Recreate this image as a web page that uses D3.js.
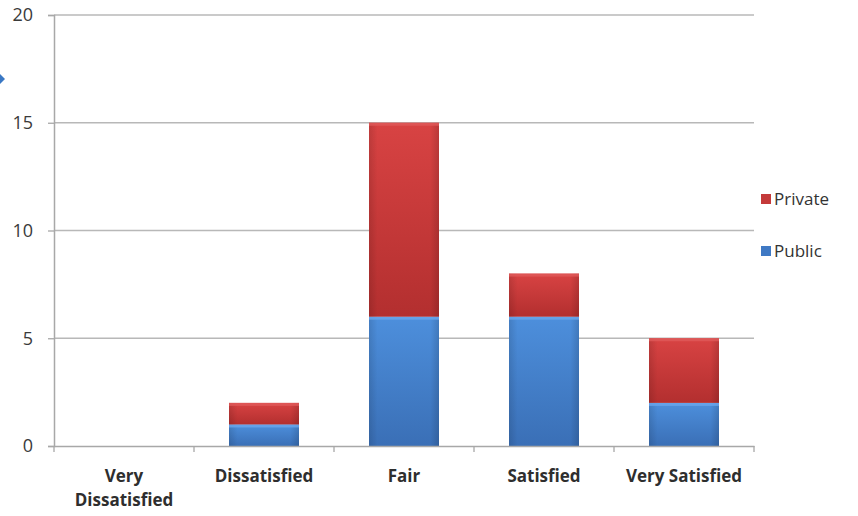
<!DOCTYPE html>
<html>
<head>
<meta charset="utf-8">
<script src="https://cdn.jsdelivr.net/npm/d3@7"></script>
<style>
  html, body { margin: 0; padding: 0; background: #fff; }
  svg { display: block; }
</style>
</head>
<body>
<svg id="chart" width="858" height="516"></svg>
<script>
// Satisfaction ratings, split by sector
const categories = ["Very Dissatisfied", "Dissatisfied", "Fair", "Satisfied", "Very Satisfied"];
const publicValues = [0, 1, 6, 6, 2];
const privateValues = [0, 1, 9, 2, 3];
const seriesNames = ["Public", "Private"];
const yTicks = [0, 5, 10, 15, 20];

const rows = categories.map((c, i) => ({ category: c, Public: publicValues[i], Private: privateValues[i] }));
const stacked = d3.stack().keys(seriesNames)(rows);

const svg = d3.select("#chart");
const margin = { left: 54, right: 104, top: 15, bottom: 70 };
const W = 858, H = 516;
const FONT = "'Open Sans', sans-serif";

const x = d3.scaleBand().domain(categories).range([margin.left, W - margin.right]).paddingInner(0.5).paddingOuter(0.25);
const y = d3.scaleLinear().domain([0, 20]).range([H - margin.bottom, margin.top]);

const defs = svg.append("defs");
function gradients(id, light, dark) {
  const v = defs.append("linearGradient").attr("id", id + "-v").attr("x1", 0).attr("y1", 0).attr("x2", 0).attr("y2", 1);
  v.append("stop").attr("offset", "0%").attr("stop-color", light);
  v.append("stop").attr("offset", "100%").attr("stop-color", dark);
  const h = defs.append("linearGradient").attr("id", id + "-h").attr("x1", 0).attr("y1", 0).attr("x2", 1).attr("y2", 0);
  h.append("stop").attr("offset", "0%").attr("stop-color", "#000").attr("stop-opacity", 0.12);
  h.append("stop").attr("offset", "12%").attr("stop-color", "#000").attr("stop-opacity", 0);
  h.append("stop").attr("offset", "88%").attr("stop-color", "#000").attr("stop-opacity", 0);
  h.append("stop").attr("offset", "100%").attr("stop-color", "#000").attr("stop-opacity", 0.14);
}
gradients("pub", "#4d8fdc", "#3a6fb6");
gradients("pri", "#d84343", "#b32f2f");
const fills = { Public: "pub", Private: "pri" };
const edge = { Public: "#6aa6ec", Private: "#e05a5a" };

// Horizontal gridlines
svg.append("g").selectAll("line").data(yTicks.filter(t => t > 0)).join("line")
  .attr("x1", margin.left).attr("x2", W - margin.right)
  .attr("y1", d => y(d)).attr("y2", d => y(d))
  .attr("stroke", "#b8b8b8").attr("stroke-width", 1.3);

// Y axis
const yAxis = svg.append("g").attr("transform", `translate(${margin.left},0)`)
  .call(d3.axisLeft(y).tickValues(yTicks).tickSize(6).tickPadding(15));
yAxis.select(".domain").attr("stroke", "#a8a8a8").attr("stroke-width", 1.5);
yAxis.selectAll(".tick line").attr("stroke", "#a8a8a8").attr("stroke-width", 1.3);
yAxis.selectAll("text").attr("font-family", FONT).attr("font-size", 18).attr("fill", "#3a3a3a");

// Stacked bars
const layer = svg.append("g").selectAll("g").data(stacked).join("g");
layer.selectAll("g.seg").data(s => s.map(d => ({ key: s.key, d }))).join("g").attr("class", "seg")
  .each(function (p) {
    const g = d3.select(this);
    const x0 = x(p.d.data.category), w = x.bandwidth();
    const top = y(p.d[1]), hgt = y(p.d[0]) - y(p.d[1]);
    if (hgt <= 0) return;
    g.append("rect").attr("x", x0).attr("y", top).attr("width", w).attr("height", hgt)
      .attr("fill", `url(#${fills[p.key]}-v)`);
    g.append("rect").attr("x", x0).attr("y", top).attr("width", w).attr("height", hgt)
      .attr("fill", `url(#${fills[p.key]}-h)`);
    g.append("rect").attr("x", x0).attr("y", top).attr("width", w).attr("height", Math.min(3, hgt))
      .attr("fill", edge[p.key]).attr("opacity", 0.8);
  });

// X axis
const xAxis = svg.append("g").attr("transform", `translate(0,${y(0)})`)
  .call(d3.axisBottom(x).tickSize(0).tickPadding(0));
xAxis.select(".domain").attr("stroke", "#a8a8a8").attr("stroke-width", 1.5);
xAxis.selectAll(".tick line").remove();
xAxis.selectAll(".tick text").remove();
// Band boundary tick marks
const bounds = categories.map(c => x(c) - x.bandwidth() * 0.5).concat([W - margin.right]);
svg.append("g").selectAll("line").data(bounds).join("line")
  .attr("x1", d => d).attr("x2", d => d)
  .attr("y1", y(0)).attr("y2", y(0) + 6)
  .attr("stroke", "#a8a8a8").attr("stroke-width", 1.3);

// Category labels (wrapped like the original)
const labelLines = { "Very Dissatisfied": ["Very", "Dissatisfied"] };
const lab = svg.append("g").selectAll("text").data(categories).join("text")
  .attr("x", d => x(d) + x.bandwidth() / 2)
  .attr("y", y(0) + 36)
  .attr("text-anchor", "middle")
  .attr("font-family", FONT).attr("font-weight", "bold")
  .attr("font-size", 17).attr("fill", "#2e2e2e");
lab.each(function (d) {
  const lines = labelLines[d] || [d];
  const t = d3.select(this);
  lines.forEach((l, i) => t.append("tspan").attr("x", x(d) + x.bandwidth() / 2).attr("dy", i === 0 ? 0 : 24).text(l));
});

// Legend
const legendOrder = ["Private", "Public"];
const leg = svg.append("g").selectAll("g").data(legendOrder).join("g")
  .attr("transform", (d, i) => `translate(761,${194 + i * 52})`);
leg.append("rect").attr("width", 10).attr("height", 10)
  .attr("fill", d => d === "Private" ? "#c43a3a" : "#3f79c4");
leg.append("text").attr("x", 13).attr("y", 11)
  .attr("font-family", FONT).attr("font-size", 17).attr("fill", "#333")
  .text(d => d);

// Small blue pointer at the left edge
svg.append("path").attr("d", d3.line()([[0, 74], [5, 79], [0, 84]])).attr("fill", "#3a78c4");
</script>
</body>
</html>
